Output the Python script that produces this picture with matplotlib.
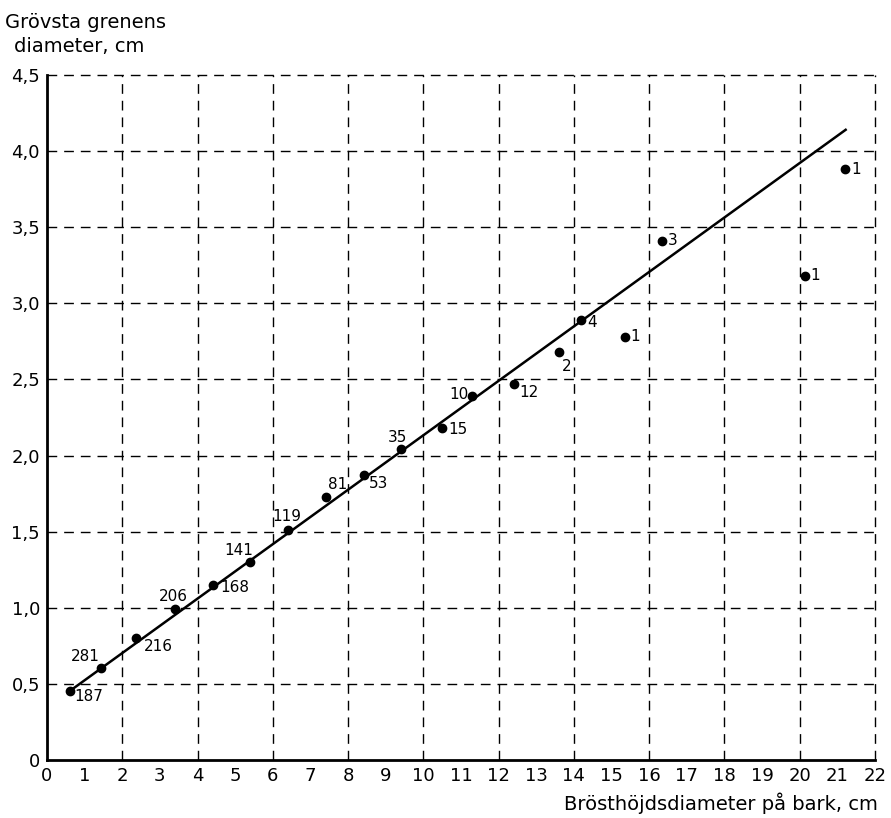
import matplotlib
matplotlib.use("Agg")
import matplotlib.pyplot as plt
import numpy as np

# Brösthöjdsdiameter (x) mot grövsta grenens diameter (y), antal träd per klass
dbh = [0.61, 1.44, 2.37, 3.40, 4.41, 5.40, 6.41, 7.42, 8.43, 9.41,
       10.50, 11.30, 12.42, 13.60, 14.20, 15.35, 16.33, 20.13, 21.20]
branch = [0.454, 0.605, 0.80, 0.99, 1.15, 1.30, 1.51, 1.73, 1.87, 2.04,
          2.18, 2.39, 2.47, 2.68, 2.89, 2.78, 3.41, 3.18, 3.88]
counts = ["187", "281", "216", "206", "168", "141", "119", "81", "53", "35",
          "15", "10", "12", "2", "4", "1", "3", "1", "1"]

# utjämnad linje
line_x = [0.61, 21.22]
line_y = [0.454, 4.14]

x_ticks = list(range(0, 23))
x_grid = list(range(2, 23, 2))
y_ticks = [0, 0.5, 1.0, 1.5, 2.0, 2.5, 3.0, 3.5, 4.0, 4.5]

# textplacering (pixlar från punkten), ha, va
label_pos = [
    ((4, 2), "left", "top"), ((-1, 4), "right", "bottom"), ((8, -1), "left", "top"),
    ((13, 5), "right", "bottom"), ((7, -3), "left", "center"), ((3, 4), "right", "bottom"),
    ((-1, 6), "center", "bottom"), ((2, 5), "left", "bottom"), ((5, -1), "left", "top"),
    ((6, 4), "right", "bottom"), ((6, -1), "left", "center"), ((-4, 2), "right", "center"),
    ((5, -1), "left", "top"), ((3, -7), "left", "top"), ((6, -2), "left", "center"),
    ((6, 0), "left", "center"), ((6, 0), "left", "center"), ((6, 0), "left", "center"),
    ((6, 0), "left", "center"),
]

plt.rcParams["font.family"] = ["DejaVu Sans"]

fig = plt.figure(figsize=(8.91, 8.18), dpi=100)
ax = fig.add_axes([47 / 891, 1 - 760 / 818, 828 / 891, 685 / 818])

ax.set_xlim(0, 22)
ax.set_ylim(0, 4.5)

# streckat rutnät, lodräta linjer varannan cm
for xv in x_grid:
    ax.axvline(xv, color="black", lw=1.0, ls=(0, (7, 5)), clip_on=False, zorder=1)
for yv in y_ticks[1:]:
    ax.axhline(yv, color="black", lw=1.0, ls=(0, (7, 5)), clip_on=False, zorder=1)

for side in ["top", "right"]:
    ax.spines[side].set_visible(False)
for side in ["left", "bottom"]:
    ax.spines[side].set_linewidth(2)

ax.plot(line_x, line_y, color="black", lw=1.8, zorder=2)
ax.plot(dbh, branch, "o", color="black", ms=6, zorder=3)

for x, y, txt, (off, ha, va) in zip(dbh, branch, counts, label_pos):
    ax.annotate(txt, (x, y), xytext=off, textcoords="offset pixels",
                ha=ha, va=va, fontsize=11)

ax.set_xticks(x_ticks)
ax.set_xticklabels([str(v) for v in x_ticks], fontsize=13)
ax.set_yticks(y_ticks)
ax.set_yticklabels(["0"] + [f"{v:.1f}".replace(".", ",") for v in y_ticks[1:]], fontsize=13)
ax.tick_params(length=0, pad=5)

fig.text(5 / 891, 1 - 22 / 818, "Grövsta grenens", fontsize=14, va="center", ha="left")
fig.text(14 / 891, 1 - 47 / 818, "diameter, cm", fontsize=14, va="center", ha="left")
fig.text(878 / 891, 1 - 803 / 818, "Brösthöjdsdiameter på bark, cm", fontsize=14,
         va="center", ha="right")

fig.savefig("out.png", dpi=100, facecolor="white")
